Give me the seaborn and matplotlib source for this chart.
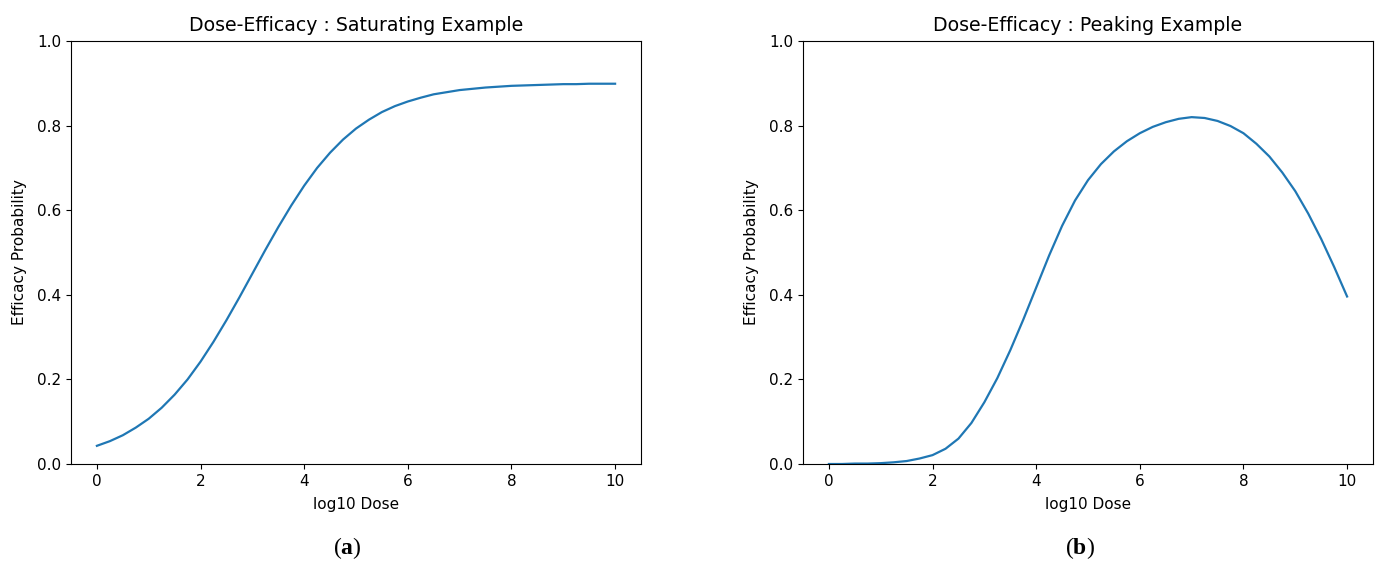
import matplotlib
matplotlib.use("Agg")
import matplotlib.pyplot as plt
import seaborn as sns
import pandas as pd

# log10 dose grid (read at 0.25 steps)
log_dose = [0.0, 0.25, 0.5, 0.75, 1.0, 1.25, 1.5, 1.75, 2.0, 2.25, 2.5, 2.75,
            3.0, 3.25, 3.5, 3.75, 4.0, 4.25, 4.5, 4.75, 5.0, 5.25, 5.5, 5.75,
            6.0, 6.25, 6.5, 6.75, 7.0, 7.25, 7.5, 7.75, 8.0, 8.25, 8.5, 8.75,
            9.0, 9.25, 9.5, 9.75, 10.0]

saturating = [0.043, 0.054, 0.068, 0.086, 0.107, 0.133, 0.164, 0.200, 0.242,
              0.289, 0.340, 0.394, 0.450, 0.506, 0.560, 0.611, 0.658, 0.700,
              0.736, 0.767, 0.793, 0.814, 0.832, 0.846, 0.857, 0.866, 0.874,
              0.879, 0.884, 0.887, 0.890, 0.892, 0.894, 0.895, 0.896, 0.897,
              0.898, 0.898, 0.899, 0.899, 0.899]

peaking = [0.000, 0.000, 0.001, 0.001, 0.002, 0.004, 0.007, 0.013, 0.021,
           0.036, 0.060, 0.097, 0.146, 0.203, 0.269, 0.341, 0.417, 0.493,
           0.563, 0.623, 0.671, 0.709, 0.739, 0.763, 0.782, 0.797, 0.808,
           0.816, 0.820, 0.818, 0.811, 0.799, 0.782, 0.757, 0.727, 0.689,
           0.645, 0.592, 0.532, 0.466, 0.396]

titles = ["Dose-Efficacy : Saturating Example", "Dose-Efficacy : Peaking Example"]
panel_letters = ["a", "b"]
x_label = "log10 Dose"
y_label = "Efficacy Probability"

plt.rcParams["mathtext.fontset"] = "custom"
plt.rcParams["mathtext.rm"] = "Liberation Serif"
plt.rcParams["mathtext.bf"] = "Liberation Serif:bold"

fig = plt.figure(figsize=(13.78, 5.61), dpi=100)
W, H = 1378, 561
ax_boxes = [(71, 41, 570, 423), (803, 41, 570, 423)]
letter_pos = [(347, 548), (1080, 548)]

for i, series in enumerate([saturating, peaking]):
    l, t, w, h = ax_boxes[i]
    ax = fig.add_axes([l / W, 1 - (t + h) / H, w / W, h / H])
    df = pd.DataFrame({"x": log_dose, "y": series})
    sns.lineplot(data=df, x="x", y="y", ax=ax, color="#1f77b4", linewidth=1.6)
    ax.set_ylim(0, 1.0)
    ax.set_xlim(-0.5, 10.5)
    ax.set_xticks([0, 2, 4, 6, 8, 10])
    ax.set_yticks([0.0, 0.2, 0.4, 0.6, 0.8, 1.0])
    ax.set_title(titles[i], fontsize=13.6, pad=7)
    ax.set_xlabel(x_label, fontsize=11, labelpad=6)
    ax.set_ylabel(y_label, fontsize=11, labelpad=7)
    ax.tick_params(labelsize=11)
    lx, ly = letter_pos[i]
    fig.text(lx / W, 1 - ly / H, "(" + r"$\mathbf{" + panel_letters[i] + "}$" + ")",
             ha="center", va="center", fontsize=17, family="Liberation Serif")

fig.savefig("out.png", dpi=100)
